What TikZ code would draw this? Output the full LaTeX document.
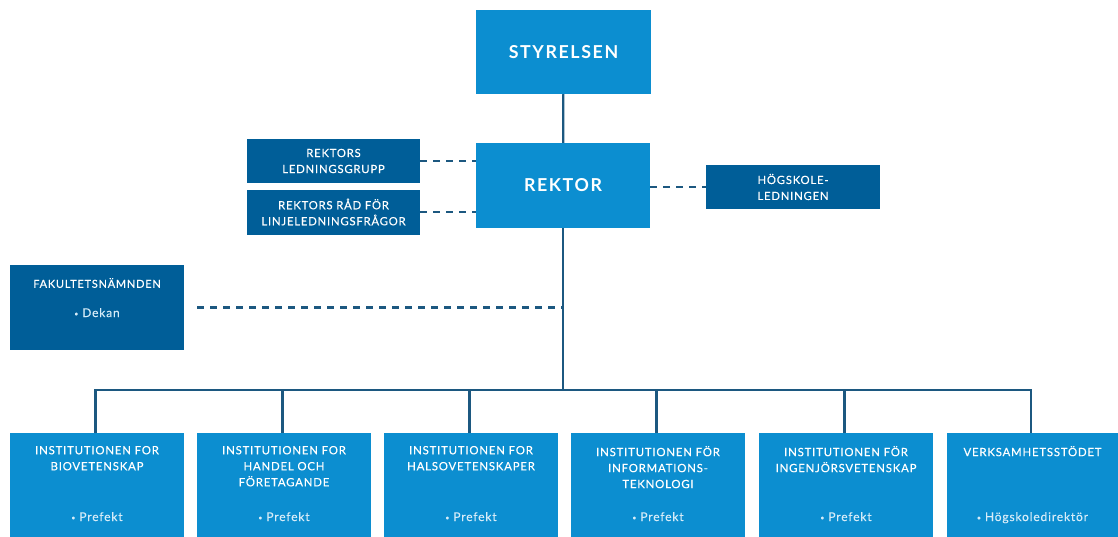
\documentclass[tikz,border=0pt]{standalone}
\usepackage{fontspec}
\setmainfont{Lato}
\newfontfamily\capsfont[LetterSpace=7, FakeBold=0.25]{Lato}
\newfontfamily\bigcaps[LetterSpace=9]{Lato}
\definecolor{lblue}{RGB}{12,142,208}
\definecolor{dblue}{RGB}{0,94,152}
\definecolor{lineblue}{RGB}{28,88,128}
\definecolor{softtext}{RGB}{215,236,248}
\tikzset{
  lbox/.style={fill=lblue, draw=none, inner sep=0pt},
  dbox/.style={fill=dblue, draw=none, inner sep=0pt, text=white, align=center,
    font=\capsfont\fontsize{11.3}{16}\selectfont},
  bigtext/.style={text=white, font=\bigcaps\bfseries\fontsize{17.8}{20}\selectfont},
  titletext/.style={text=white, align=center, anchor=north, inner sep=0pt,
    font=\capsfont\fontsize{11.4}{16}\selectfont},
  itemtext/.style={text=softtext, anchor=base, inner sep=0pt,
    font=\capsfont\fontsize{12}{12}\selectfont},
  solidline/.style={draw=lineblue, line width=2.2pt},
  dashline/.style={draw=lineblue, line width=2.2pt, dash pattern=on 7pt off 6pt}
}
\newcommand{\smallbul}{{\fontsize{7}{7}\selectfont\raisebox{0.25ex}{\textbullet}}}
\begin{document}
\begin{tikzpicture}[x=1pt, y=-1pt]
\useasboundingbox (0,0) rectangle (1118,536);
% top
\node[lbox, minimum width=175pt, minimum height=84pt, bigtext] (sty) at (563.5,52) {STYRELSEN};
\node[lbox, minimum width=174pt, minimum height=85pt, bigtext] (rek) at (563,185.5) {REKTOR};
% side boxes
\node[dbox, minimum width=173pt, minimum height=44pt] (rlg) at (333.5,161) {REKTORS\\LEDNINGSGRUPP};
\node[dbox, minimum width=173pt, minimum height=45pt] (rrf) at (333.5,212) {REKTORS RÅD FÖR\\LINJELEDNINGSFRÅGOR};
\node[dbox, minimum width=174pt, minimum height=44pt] (hl) at (793,187) {HÖGSKOLE-\\LEDNINGEN};
\node[fill=dblue, inner sep=0pt, minimum width=174pt, minimum height=85pt] (fn) at (97,307.5) {};
\node[titletext, font=\capsfont\fontsize{11}{16}\selectfont] (fnt) at ([yshift=-13pt]fn.north) {FAKULTETSNÄMNDEN};
\node[itemtext] (fni) at (97,317) {\smallbul\ Dekan};
% bottom boxes
\foreach \n/\x/\w/\t/\it in {
  b1/97/174/{INSTITUTIONEN FOR\\BIOVETENSKAP}/Prefekt,
  b2/284/174/{INSTITUTIONEN FOR\\HANDEL OCH\\FÖRETAGANDE}/Prefekt,
  b3/471/174/{INSTITUTIONEN FOR\\HALSOVETENSKAPER}/Prefekt,
  b4/658/174/{INSTITUTIONEN FÖR\\INFORMATIONS-\\TEKNOLOGI}/Prefekt,
  b5/846/174/{INSTITUTIONEN FÖR\\INGENJÖRSVETENSKAP}/Prefekt,
  b6/1032.5/172/{VERKSAMHETSSTÖDET}/Högskoledirektör}{
  \node[lbox, minimum width=\w pt, minimum height=104pt] (\n) at (\x,485) {};
  \node[titletext] (\n t) at ([yshift=-13pt]\n.north) {\t};
  \node[itemtext] (\n i) at (\x,521) {\smallbul\ \it};
}
% connectors
\draw[solidline] (sty) -- (rek);
\coordinate (bus) at (563,390);
\draw[solidline] (rek.south) -- (bus);
\draw[solidline] ([xshift=-2.6pt]b1.north |- bus) -- ([xshift=-0.4pt]b6.north |- bus);
\foreach \n in {b1,b2,b3,b4,b5,b6}{
  \draw[solidline] ([xshift=-1.5pt]\n.north) -- ([xshift=-1.5pt]\n.north |- bus);
}
\draw[dashline] (rlg.east) -- (rek.west |- rlg.east);
\draw[dashline] (rrf.east) -- (rek.west |- rrf.east);
\draw[dashline] (rek.east |- hl.west) -- (hl.west);
\draw[dashline, shorten <=13pt] (fn.east) -- (rek.south |- fn.east);
\end{tikzpicture}
\end{document}
